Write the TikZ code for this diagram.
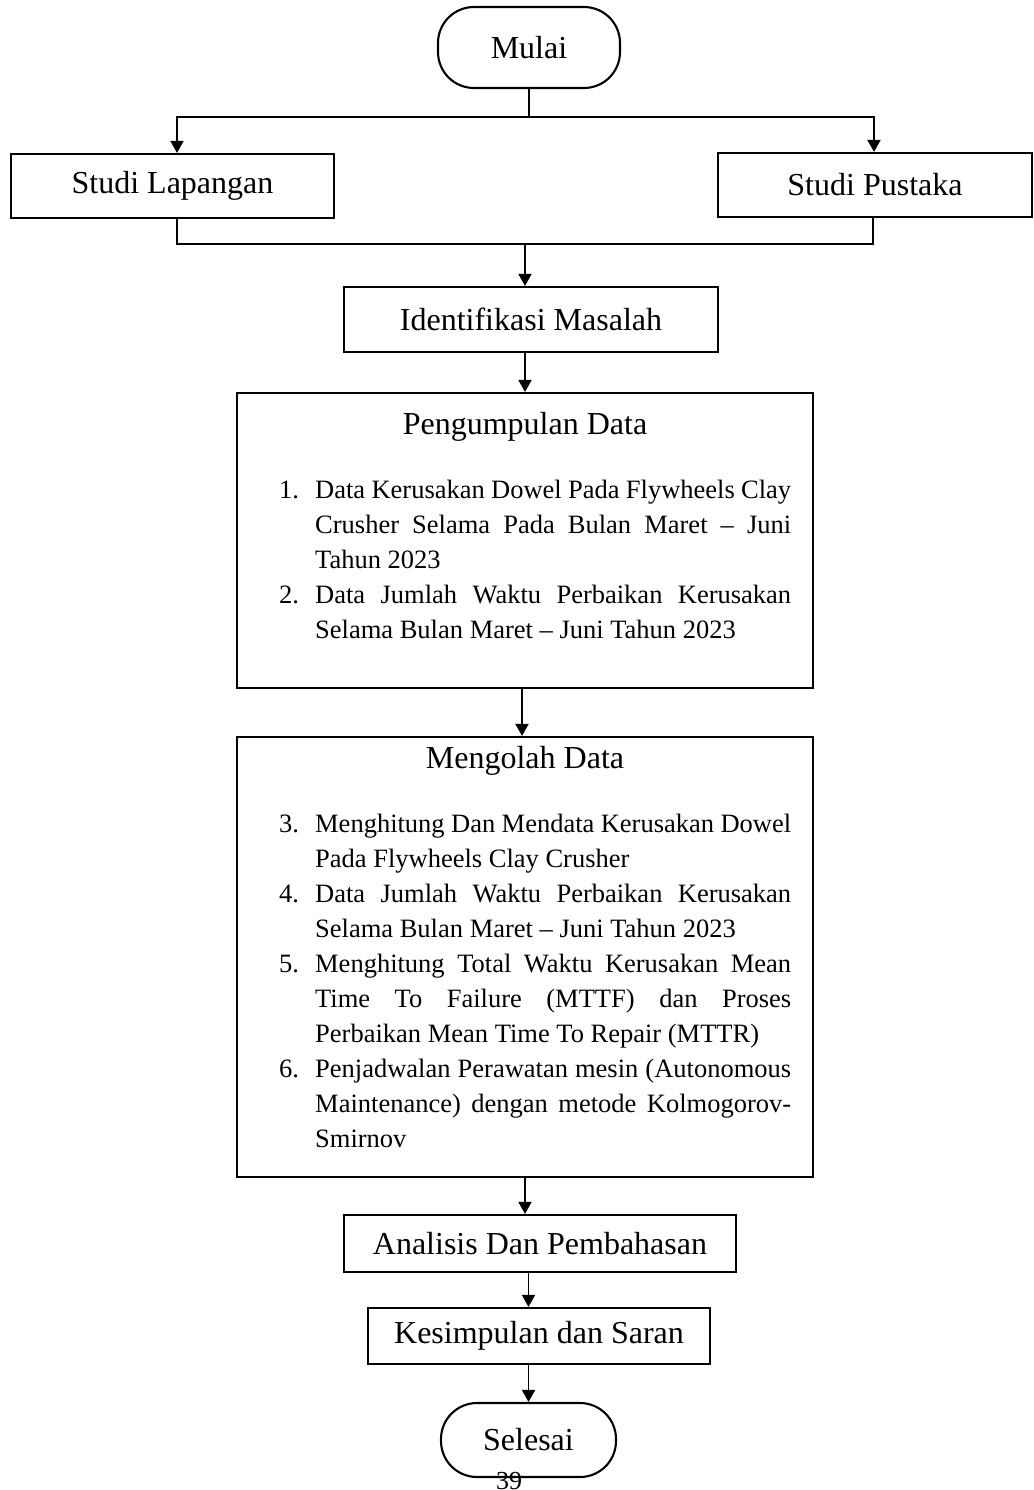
\documentclass[tikz,border=0pt]{standalone}
\usepackage{fontspec}
\setmainfont{Liberation Serif}
\usetikzlibrary{arrows.meta,calc}
\newcommand{\litem}[2]{\noindent\hangindent=36pt\hangafter=1\makebox[36pt][l]{#1}#2\par}
\newcommand{\listsetup}{\tolerance=10000 \hbadness=10000 \hyphenpenalty=10000 \parindent=0pt\relax}
\tikzset{
  box/.style={draw, line width=2.1pt, inner sep=0pt, font=\fontsize{32}{38}\selectfont},
  term/.style={box, rounded corners=36pt},
  conn/.style={line width=1.7pt},
  arr/.style={conn, -{Triangle[length=12pt,width=13pt]}},
  title/.style={inner sep=0pt, anchor=base, font=\fontsize{32}{38}\selectfont},
  listtext/.style={inner sep=0pt, anchor=base west, text width=512pt, align=justify,
    font=\fontsize{26.5}{35}\selectfont}
}
\begin{document}
\begin{tikzpicture}[x=1pt,y=-1pt]
\useasboundingbox (0,0) rectangle (1033,1490);
\fill[white] (0,0) rectangle (1033,1490);

\node[term, minimum width=182pt, minimum height=81pt] (mulai) at (529,47.5) {Mulai};
\node[box, minimum width=323pt, minimum height=64pt] (sl) at (172.5,186) {Studi Lapangan};
\node[box, minimum width=314pt, minimum height=64pt] (sp) at (875,185) {Studi Pustaka};
\node[box, minimum width=374pt, minimum height=65pt] (im) at (531,319.5) {Identifikasi Masalah};
\node[box, minimum width=576pt, minimum height=295pt] (pd) at (525,540.5) {};
\node[box, minimum width=576pt, minimum height=440pt] (mo) at (525,957) {};
\node[box, minimum width=392pt, minimum height=57pt] (an) at (540,1243.5) {Analisis Dan Pembahasan};
\node[box, minimum width=342pt, minimum height=56pt] (ks) at (539,1336) {Kesimpulan dan Saran};
\node[term, minimum width=175pt, minimum height=74pt] (sel) at (528.5,1440) {Selesai};

\node[title] (pdt) at (525,434) {Pengumpulan Data};
\node[listtext] (pdl) at (279,498) {\listsetup%
\litem{1.}{Data Kerusakan Dowel Pada Flywheels Clay\linebreak Crusher Selama Pada Bulan Maret -- Juni\linebreak Tahun 2023}%
\litem{2.}{Data Jumlah Waktu Perbaikan Kerusakan\linebreak Selama Bulan Maret -- Juni Tahun 2023}};

\node[title] (mot) at (525,768) {Mengolah Data};
\node[listtext] (mol) at (279,832) {\listsetup%
\litem{3.}{Menghitung Dan Mendata Kerusakan Dowel\linebreak Pada Flywheels Clay Crusher}%
\litem{4.}{Data Jumlah Waktu Perbaikan Kerusakan\linebreak Selama Bulan Maret -- Juni Tahun 2023}%
\litem{5.}{Menghitung Total Waktu Kerusakan Mean\linebreak Time To Failure (MTTF) dan Proses\linebreak Perbaikan Mean Time To Repair (MTTR)}%
\litem{6.}{Penjadwalan Perawatan mesin (Autonomous\linebreak Maintenance) dengan metode Kolmogorov-\linebreak Smirnov}};

\node[inner sep=0pt, anchor=base, font=\fontsize{26}{30}\selectfont] (pg) at (509,1489) {39};

\coordinate (top) at (529,117);
\coordinate (mid) at (525,244);
\draw[conn] (mulai.south) -- (top);
\draw[arr] (top) -| ([xshift=4.5pt]sl.north);
\draw[arr] (top) -| ([xshift=-1pt]sp.north);
\draw[conn] ([xshift=4.5pt]sl.south) |- (mid);
\draw[conn] ([xshift=-2pt]sp.south) |- (mid);
\draw[arr] (mid) -- (mid |- im.north);
\draw[arr] (im.south -| mid) -- (pd.north -| mid);
\draw[arr] ([xshift=-3pt]pd.south) -- ([xshift=-3pt]mo.north);
\draw[arr] (mo.south) -- (mo.south |- an.north);
\draw[arr] (an.south -| sel.north) -- (ks.north -| sel.north);
\draw[arr] (ks.south -| sel.north) -- (sel.north);
\end{tikzpicture}
\end{document}
